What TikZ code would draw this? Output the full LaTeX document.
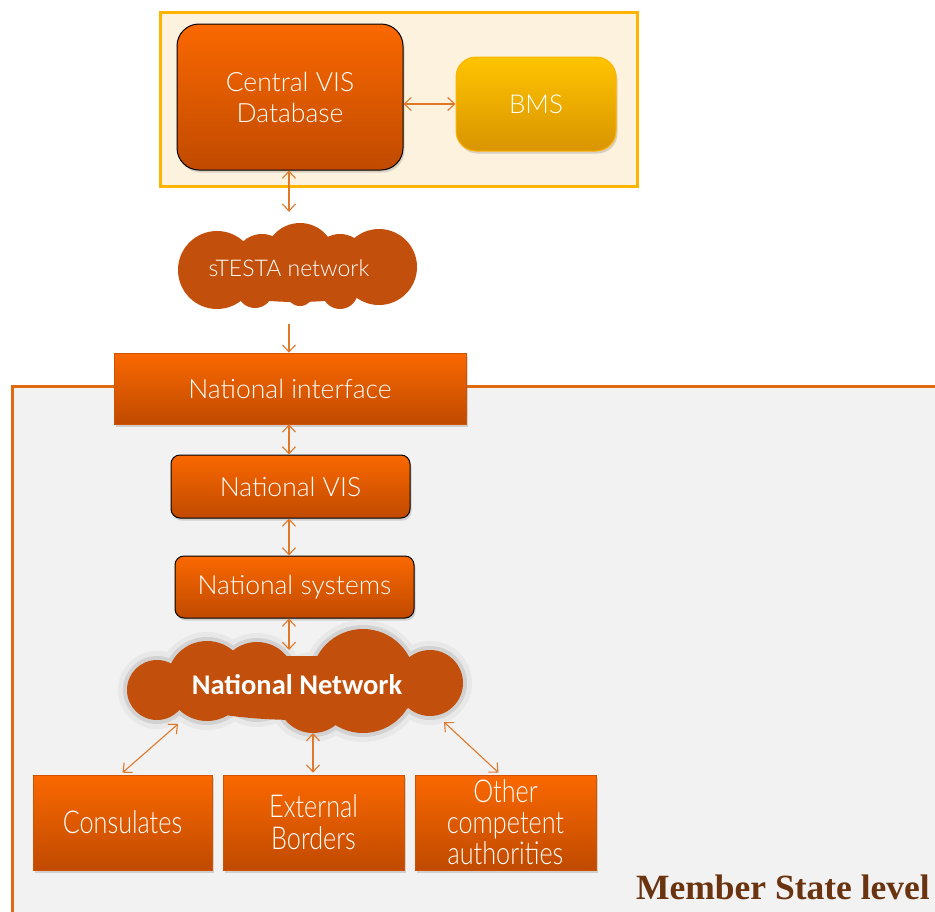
\documentclass[tikz,border=0pt]{standalone}
\usepackage{fontspec}
\setmainfont{Lato Light}
\newfontfamily\condfont[FakeStretch=0.8]{Lato Light}
\newfontfamily\netfont{Carlito}
\newfontfamily\msfont{Liberation Serif}
\usetikzlibrary{arrows.meta,shadows}
\definecolor{orTop}{HTML}{FA6800}
\definecolor{orBot}{HTML}{C04A00}
\definecolor{ylTop}{HTML}{FFC400}
\definecolor{ylBot}{HTML}{D99400}
\definecolor{ylBorder}{HTML}{FFB400}
\definecolor{cream}{HTML}{FDF2DE}
\definecolor{arrowc}{HTML}{E0782A}
\definecolor{cloudc}{HTML}{C2500C}
\definecolor{msBorder}{HTML}{E06A10}
\definecolor{msFill}{HTML}{F2F2F2}
\definecolor{brownT}{HTML}{6B3410}
\tikzset{
  obox/.style={top color=orTop, bottom color=orBot, text=white, align=center,
    inner sep=0pt, drop shadow={shadow xshift=1.5pt, shadow yshift=-2.5pt, opacity=0.3}},
  rbox/.style={obox, draw=black, line width=1pt, rounded corners=9pt},
  sbox/.style={obox, draw=orBot!70!orTop, line width=0.6pt},
  conn/.style={draw=arrowc, line width=1.1pt, {Straight Barb[length=7pt,width=13pt]}-{Straight Barb[length=7pt,width=13pt]}},
  conn1/.style={draw=arrowc, line width=1.1pt, -{Straight Barb[length=7pt,width=13pt]}},
}
\begin{document}
\begin{tikzpicture}[x=1pt,y=-1pt]
\useasboundingbox (0,0) rectangle (935,911);
% Member State container
\draw[msBorder, line width=3pt, fill=msFill] (12,940) -- (12,386) -- (960,386) -- (960,940) -- cycle;
% Central container
\draw[ylBorder, line width=3pt, fill=cream] (160,12) rectangle (637,186);
% Central VIS database
\node[rbox, rounded corners=22pt, minimum width=226pt, minimum height=146pt,
  font=\fontsize{26.5}{31}\selectfont] (central) at (290,97) {Central VIS\\Database};
\node[obox, top color=ylTop, bottom color=ylBot, draw=ylBorder, line width=1pt, rounded corners=20pt,
  minimum width=160pt, minimum height=94pt, font=\fontsize{26}{30}\selectfont] (bms) at (536,104) {BMS};
\draw[conn] (central.east |- bms.west) -- (bms.west);
% sTESTA cloud
\fill[cloudc] (217,270) circle (39pt) (262,262) circle (28pt) (300,258) circle (35pt)
  (340,262) circle (28pt) (379,267) circle (38pt)
  (255,290) circle (18pt) (300,292) circle (14pt) (340,291) circle (18pt);
\fill[cloudc] (297,272) ellipse (105pt and 30pt);
\node[text=white, minimum width=230pt, minimum height=112pt, inner sep=0pt,
  font=\fontsize{23}{27}\selectfont] (stesta) at (289,268) {sTESTA network};
\draw[conn] (central.south -| stesta.north) -- (stesta.north);
% National interface
\node[sbox, minimum width=352pt, minimum height=71pt, font=\fontsize{26.5}{31}\selectfont]
  (nif) at (290,388.5) {National interface};
\draw[conn1] (stesta.south) -- (stesta.south |- nif.north);
% National VIS
\node[rbox, minimum width=239pt, minimum height=63pt, font=\fontsize{26.5}{31}\selectfont]
  (nvis) at (290.5,486.5) {National VIS};
\draw[conn] (nif.south -| stesta.south) -- (stesta.south |- nvis.north);
% National systems
\node[rbox, minimum width=239pt, minimum height=62pt, font=\fontsize{26.5}{31}\selectfont]
  (nsys) at (294.5,587) {National systems};
\draw[conn] (nvis.south -| stesta.south) -- (stesta.south |- nsys.north);
% National Network cloud
\begin{scope}
\draw[gray!18, line width=18pt] (157,690) circle (30pt) (207,681) circle (40pt) (257,680) circle (38pt)
  (313,697) circle (36pt) (363,681) circle (52pt) (430,683) circle (33pt);
\draw[gray!35, line width=8pt] (157,690) circle (30pt) (207,681) circle (40pt) (257,680) circle (38pt)
  (313,697) circle (36pt) (363,681) circle (52pt) (430,683) circle (33pt);
\fill[cloudc] (157,690) circle (30pt) (207,681) circle (40pt) (257,680) circle (38pt)
  (313,697) circle (36pt) (363,681) circle (52pt) (430,683) circle (33pt)
  (300,688) ellipse (140pt and 32pt);
\end{scope}
\node[text=white, inner sep=0pt, font=\netfont\bfseries\fontsize{28.5}{33}\selectfont]
  (natnet) at (297,685) {National Network};
\coordinate (nnN) at (289,650);
\coordinate (nnSW) at (178,724);
\coordinate (nnS) at (313,733);
\coordinate (nnSE) at (444,722);
\draw[conn] (nsys.south -| nnN) -- (nnN);
% Bottom boxes
\node[sbox, minimum width=179pt, minimum height=95pt, font=\condfont\fontsize{31.5}{32}\selectfont]
  (cons) at (122.5,822.5) {Consulates};
\node[sbox, minimum width=181pt, minimum height=95pt, font=\condfont\fontsize{31.5}{32}\selectfont]
  (ext) at (313.5,822.5) {External\\Borders};
\node[sbox, minimum width=181pt, minimum height=95pt, font=\condfont\fontsize{31.5}{31}\selectfont]
  (oth) at (505.5,822.5) {Other\\competent\\authorities};
\draw[conn] (nnSW) -- ([yshift=2pt]cons.north);
\draw[conn] (nnS) -- ([yshift=2pt]ext.north -| nnS);
\draw[conn] (nnSE) -- ([xshift=-7pt,yshift=2pt]oth.north);
% Label
\node[anchor=base east, inner sep=0pt, text=brownT, font=\msfont\bfseries\fontsize{35.5}{40}\selectfont]
  (mslabel) at (930,899) {Member State level};
\end{tikzpicture}
\end{document}
